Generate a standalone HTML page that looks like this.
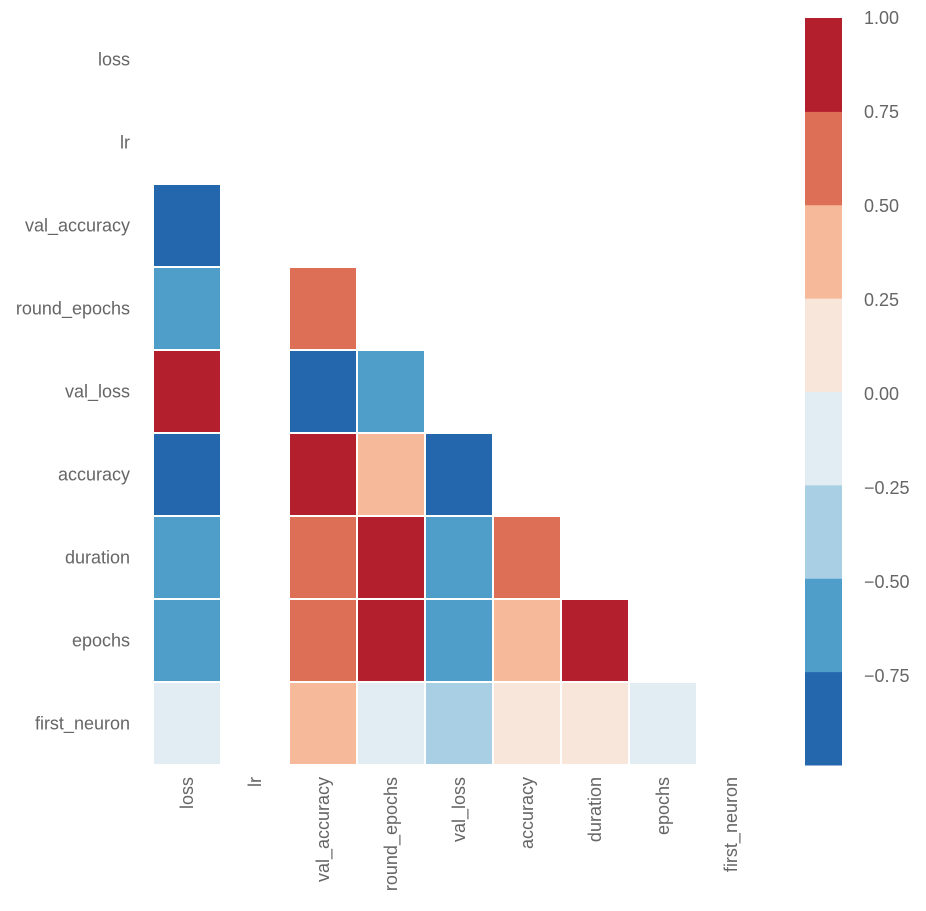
<!DOCTYPE html>
<html><head><meta charset="utf-8"><style>
body{margin:0;background:#fff;}
svg text{font-family:"Liberation Sans",sans-serif;font-size:18px;fill:#666;}
</style></head><body>
<svg id="chart" width="926" height="906"></svg>
<script>
const labels = ["loss","lr","val_accuracy","round_epochs","val_loss","accuracy","duration","epochs","first_neuron"];
const corrRows = [
 [null,null,null,null,null,null,null,null,null],
 [null,null,null,null,null,null,null,null,null],
 [-0.9,null,null,null,null,null,null,null,null],
 [-0.6,null,0.6,null,null,null,null,null,null],
 [0.9,null,-0.9,-0.6,null,null,null,null,null],
 [-0.9,null,0.9,0.35,-0.9,null,null,null,null],
 [-0.6,null,0.6,0.9,-0.6,0.6,null,null,null],
 [-0.6,null,0.6,0.9,-0.6,0.35,0.9,null,null],
 [-0.1,null,0.35,-0.1,-0.35,0.1,0.1,-0.1,null]
];
const cbTicks = [1.00,0.75,0.50,0.25,0.00,-0.25,-0.50,-0.75];
const cbTickLabels = ["1.00","0.75","0.50","0.25","0.00","\u22120.25","\u22120.50","\u22120.75"];
const vmin = -0.987, vmax = 1.0;

const NS="http://www.w3.org/2000/svg";
const svg=document.getElementById('chart');
const colors=["#2467ad","#4f9dc9","#a8cfe4","#e1ecf3","#f9e6db","#f6b99a","#de6f57","#b41f2d"];
const x0=153,y0=18,cw=68,ch=83;
function xPos(i){return x0+i*cw;}
function yPos(i){return y0+i*ch;}
function colorOf(v){let b=Math.floor((v-vmin)/(vmax-vmin)*8);b=Math.max(0,Math.min(7,b));return colors[b];}
function mk(t,a){const e=document.createElementNS(NS,t);for(const k in a)e.setAttribute(k,a[k]);svg.appendChild(e);return e;}
corrRows.forEach((row,r)=>row.forEach((v,c)=>{
  if(v===null)return;
  const e=mk('rect',{x:xPos(c)+1,y:yPos(r)+1,width:cw-2,height:ch-2,fill:colorOf(v)});
  
  
}));
labels.forEach((l,i)=>{
  const t=mk('text',{x:130,y:yPos(i)+ch/2+6,'text-anchor':'end'});t.textContent=l;
  
  
  const cx=xPos(i)+cw/2+6;
  const t2=mk('text',{x:cx,y:777,'text-anchor':'end',transform:'rotate(-90 '+cx+' 777)'});t2.textContent=l;
  
  
});
const cbx=805,cbw=37,cbTop=18,cbBot=765;
function cbY(v){return cbTop+(vmax-v)/(vmax-vmin)*(cbBot-cbTop);}
for(let b=0;b<8;b++){
  const lo=vmin+b*(vmax-vmin)/8,hi=vmin+(b+1)*(vmax-vmin)/8;
  const e=mk('rect',{x:cbx,y:cbY(hi),width:cbw,height:cbY(lo)-cbY(hi)+0.5,fill:colors[b]});
  
  
}
cbTicks.forEach((v,i)=>{
  const t=mk('text',{x:864,y:cbY(v)+6});t.textContent=cbTickLabels[i];
  
  
});
</script>
</body></html>
